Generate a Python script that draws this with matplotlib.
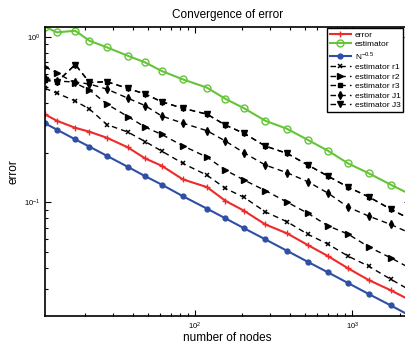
import matplotlib
matplotlib.use('Agg')
import matplotlib.pyplot as plt

plt.rcParams['font.family'] = ['Liberation Sans', 'DejaVu Sans']
plt.rcParams['mathtext.fontset'] = 'custom'
plt.rcParams['mathtext.rm'] = 'Liberation Sans'

# number of nodes (x)
nodes = [11.1, 13.2, 17.3, 21.3, 27.5, 37.3, 48.1, 61.4, 83.6, 119,
         156, 205, 280, 385, 523, 701, 940, 1271, 1754, 2330]

# series
err = [0.340, 0.311, 0.282, 0.267, 0.2455, 0.215, 0.1843, 0.1663, 0.1377, 0.1237,
       0.1022, 0.0890, 0.0736, 0.0650, 0.0552, 0.0474, 0.0400, 0.0340, 0.0295, 0.0257]
est = [1.15, 1.063, 1.087, 0.946, 0.863, 0.768, 0.700, 0.621, 0.553, 0.493,
       0.422, 0.370, 0.311, 0.278, 0.238, 0.205, 0.172, 0.150, 0.128, 0.112]
ref = [0.300, 0.275, 0.240, 0.217, 0.191, 0.164, 0.144, 0.128, 0.109, 0.0917,
       0.0801, 0.0698, 0.0598, 0.0510, 0.0437, 0.0378, 0.0326, 0.0280, 0.0239, 0.0207]
est_r1 = [0.488, 0.457, 0.409, 0.366, 0.295, 0.266, 0.233, 0.204, 0.172, 0.146,
          0.1215, 0.1072, 0.0877, 0.0764, 0.0641, 0.0560, 0.0474, 0.0412, 0.0344, 0.0295]
est_r2 = [0.659, 0.604, 0.525, 0.477, 0.392, 0.330, 0.285, 0.257, 0.2197, 0.1877,
          0.1567, 0.1364, 0.1178, 0.1004, 0.0858, 0.0722, 0.0644, 0.0539, 0.0463, 0.0401]
est_r3 = [0.548, 0.533, 0.679, 0.530, 0.535, 0.488, 0.451, 0.405, 0.370, 0.341,
          0.293, 0.261, 0.2188, 0.1976, 0.168, 0.144, 0.1237, 0.1081, 0.0911, 0.0793]
est_J1 = [0.563, 0.540, 0.533, 0.518, 0.483, 0.426, 0.384, 0.332, 0.301, 0.271,
          0.2345, 0.1993, 0.168, 0.151, 0.1332, 0.1138, 0.0937, 0.0827, 0.0736, 0.0653]
est_J3 = [0.548, 0.533, 0.679, 0.530, 0.535, 0.488, 0.451, 0.405, 0.370, 0.341,
          0.293, 0.261, 0.2188, 0.1976, 0.168, 0.144, 0.1237, 0.1081, 0.0911, 0.0793]

fig = plt.figure(figsize=(4.06, 3.45), dpi=100)
ax = fig.add_axes([45/406, 1-315.7/345, 365/406, 289/345])

ax.plot(nodes, err, color='#ee2a2a', lw=1.5, marker='+', ms=5, mew=1, label='error')
ax.plot(nodes, est, color='#66c43a', lw=1.5, marker='o', ms=5, mfc='none', mew=1, label='estimator')
ax.plot(nodes, ref, color='#2e4fa3', lw=1.5, marker='o', ms=3.5, label='$\\mathrm{N}^{-0.5}$')
ax.plot(nodes, est_r1, 'k--', lw=1, marker='x', ms=2.8, mew=1.1, dashes=(4, 3), label='estimator r1')
ax.plot(nodes, est_r2, 'k--', lw=1, marker='>', ms=4, dashes=(4, 3), label='estimator r2')
ax.plot(nodes, est_r3, 'k--', lw=1, marker='s', ms=3, dashes=(4, 3), label='estimator r3')
ax.plot(nodes, est_J1, 'k--', lw=1, marker='d', ms=4, dashes=(4, 3), label='estimator J1')
ax.plot(nodes, est_J3, 'k--', lw=1, marker='v', ms=4, dashes=(4, 3), label='estimator J3')

ax.set_xscale('log')
ax.set_yscale('log')
ax.set_xlim(11.1, 2330)
ax.set_ylim(0.0207, 1.15)
ax.tick_params(which='both', direction='in', top=True, right=True, labelsize=5.5, width=0.8)
ax.tick_params(which='major', length=4)
ax.tick_params(which='minor', length=2)
for s in ax.spines.values():
    s.set_linewidth(1.2)

ax.set_title('Convergence of error', fontsize=8.5, pad=6)
ax.set_xlabel('number of nodes', fontsize=8.5, labelpad=0)
ax.set_ylabel('error', fontsize=8.5, labelpad=3)

leg = ax.legend(loc='upper right', bbox_to_anchor=(403/406, 1-28.3/345),
                bbox_transform=fig.transFigure, borderaxespad=0, fontsize=6,
                labelspacing=0.2, handlelength=2.6, handletextpad=0.4,
                borderpad=0.3, fancybox=False, framealpha=1, edgecolor='k')
leg.get_frame().set_linewidth(1)

fig.savefig('out.png', dpi=100)
